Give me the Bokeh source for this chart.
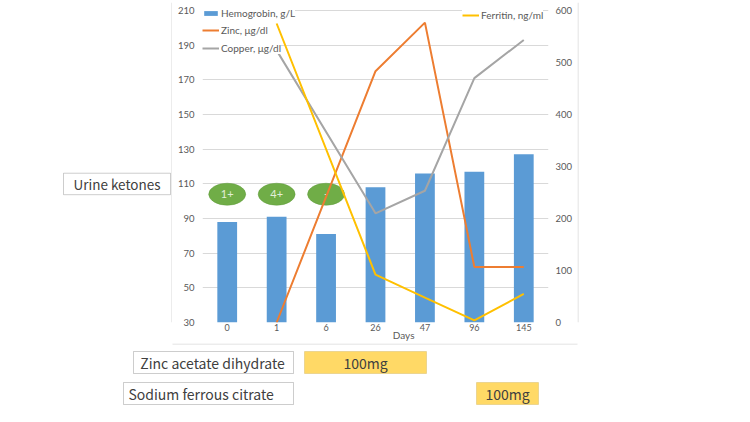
from bokeh.plotting import figure
from bokeh.layouts import row, column
from bokeh.models import (Range1d, FactorRange, LinearAxis, FixedTicker, Legend,
                          LegendItem, BoxAnnotation, Label)
from bokeh.core.properties import value
from bokeh.embed import file_html
from bokeh.resources import INLINE

# ---------------- data ----------------
days = ["0", "1", "6", "26", "47", "96", "145"]
hemoglobin = [88, 91, 81, 108, 116, 117, 127]          # g/L (left axis)
lab_days = ["1", "26", "47", "96", "145"]
zinc = [30, 175, 203, 62, 62]                          # ug/dl (left axis)
copper = [187, 93, 106, 171, 193]                      # ug/dl (left axis)
ferritin = [575, 92, 48, 4, 55]                        # ng/ml (right axis)
ketone_days = ["0", "1", "6"]
ketone_grades = ["1+", "4+", "-"]
left_ticks = [30, 50, 70, 90, 110, 130, 150, 170, 190, 210]
right_ticks = [0, 100, 200, 300, 400, 500, 600]
left_lim = (30, 210)
right_lim = (0, 600)

# ---------------- layout constants (canvas pixels) ----------------
W, H = 750, 422
CL, CR, CB = 172, 577, 343          # chart-area border
FL, FR, FB = 202, 548, 322          # plot frame left / right / bottom
GT = 10                             # pixel row of the top gridline (axis maximum)
FT = 2                              # frame top (room for the legends above the top gridline)
KETONE_Y = 104
BLUE, ORANGE, GRAY, YELLOW, GREEN = "#5B9BD5", "#ED7D31", "#A5A5A5", "#FFC000", "#70AD47"
BORDER = "#D9D9D9"
TXT = "#595959"
FONT = "Lato"
JFONT = "Noto Sans CJK JP"

pad_frac = (GT - FT) / (FB - GT)
left_end = left_lim[1] + (left_lim[1] - left_lim[0]) * pad_frac
right_end = right_lim[1] + (right_lim[1] - right_lim[0]) * pad_frac


def decor(width, height):
    f = figure(width=width, height=height, x_range=Range1d(0, width),
               y_range=Range1d(height, 0), output_backend="svg", toolbar_location=None,
               x_axis_type=None, y_axis_type=None, min_border=0)
    f.outline_line_color = None
    f.grid.visible = False
    f.background_fill_color = "white"
    f.border_fill_color = "white"
    return f


def box(f, x0, y0, x1, y1, fill=None, line="#595959"):
    f.add_layout(BoxAnnotation(left=x0, right=x1, top=y0, bottom=y1,
                               fill_color=fill if fill else "white",
                               fill_alpha=1 if fill else 0,
                               line_color=line, line_width=1))


def label(f, x, y, text, align="center", size="14px"):
    f.add_layout(Label(x=x, y=y, text=text, text_align=align, text_baseline="middle",
                       text_font=JFONT, text_font_size=size, text_color="#404040"))


def plain_axis(ax):
    ax.axis_line_color = None
    ax.major_tick_line_color = None
    ax.minor_tick_line_color = None
    ax.major_tick_out = 0
    ax.major_tick_in = 0
    ax.minor_tick_out = 0
    ax.minor_tick_in = 0
    ax.major_label_text_font = FONT
    ax.major_label_text_color = TXT


# ---------------- main chart ----------------
p = figure(width=CR - CL, height=CB, x_range=FactorRange(factors=days, range_padding=0),
           y_range=Range1d(left_lim[0], left_end), output_backend="svg",
           toolbar_location=None, min_border_left=FL - CL, min_border_right=CR - FR,
           min_border_top=FT, min_border_bottom=CB - FB)
p.outline_line_color = None
p.background_fill_color = "white"
p.border_fill_color = "white"
p.extra_y_ranges = {"ferr": Range1d(right_lim[0], right_end)}

plain_axis(p.xaxis[0])
plain_axis(p.yaxis[0])
p.yaxis[0].ticker = FixedTicker(ticks=left_ticks)
p.yaxis[0].major_label_text_font_size = "9.5px"
p.yaxis[0].major_label_standoff = 8
p.xaxis[0].major_label_text_font_size = "9px"
p.xaxis[0].major_label_standoff = 1
# axis title "Days" sits right of centre in the reference; leading no-break spaces shift it
p.xaxis[0].axis_label = "\u00a0" * 22 + "Days"
p.xaxis[0].axis_label_text_font = FONT
p.xaxis[0].axis_label_text_font_style = "normal"
p.xaxis[0].axis_label_text_font_size = "10px"
p.xaxis[0].axis_label_text_color = TXT
p.xaxis[0].axis_label_standoff = -5

rax = LinearAxis(y_range_name="ferr", ticker=FixedTicker(ticks=right_ticks))
plain_axis(rax)
rax.major_label_text_font_size = "9.5px"
rax.major_label_standoff = 7
p.add_layout(rax, "right")

p.xgrid.grid_line_color = None
p.ygrid.grid_line_color = BORDER
p.ygrid.ticker = FixedTicker(ticks=left_ticks)

bars = p.vbar(x=days, top=hemoglobin, bottom=left_lim[0], width=0.4, color=BLUE,
              line_color=None)

p.ellipse(x=ketone_days, y=KETONE_Y, width=37, height=22, width_units="screen",
          height_units="screen", fill_color=GREEN, line_color="#5E9A3A", line_width=0.5)
p.text(x=ketone_days, y=KETONE_Y, text=ketone_grades, text_align="center",
       text_baseline="middle", text_font=value(FONT), text_font_size="11px",
       text_color="#E2EFDA")

zl = p.line(lab_days, zinc, line_color=ORANGE, line_width=2)
cl = p.line(lab_days, copper, line_color=GRAY, line_width=2)
fl = p.line(lab_days, ferritin, line_color=YELLOW, line_width=2, y_range_name="ferr")

# one small legend box per entry (as in the reference), each sized to its own text
common = dict(padding=1, spacing=0, margin=0, label_height=12, glyph_height=6,
              glyph_width=17, label_standoff=2, label_text_font=FONT,
              label_text_font_size="10px", label_text_color=TXT,
              border_line_color=None, background_fill_color="white",
              background_fill_alpha=1)
legend_entries = [("Hemogrobin, g/L", bars, (0, 303)),
                  ("Zinc, μg/dl", zl, (0, 286)),
                  ("Copper, μg/dl", cl, (0, 268)),
                  ("Ferritin, ng/ml", fl, (260, 301))]
for text, rend, loc in legend_entries:
    p.add_layout(Legend(items=[LegendItem(label=text, renderers=[rend])],
                        location=loc, **common))

# ---------------- left panel (urine ketones) ----------------
left = decor(CL, CB)
left.segment(x0=CL - 0.5, y0=0, x1=CL - 0.5, y1=CB, line_color=BORDER, line_width=1)
box(left, 63, 183, 170, 206)
label(left, 116.5, 194.5, "Urine ketones", size="13.5px")

# ---------------- right panel ----------------
right = decor(W - CR, CB)
right.segment(x0=0.5, y0=0, x1=0.5, y1=CB, line_color=BORDER, line_width=1)

# ---------------- bottom panel (medications) ----------------
bottom = decor(W, H - CB)
oy = CB
bottom.segment(x0=CL, y0=0.5, x1=CR, y1=0.5, line_color=BORDER, line_width=1)
box(bottom, 133, 351 - oy, 293, 373 - oy)
label(bottom, 212, 362 - oy, "Zinc acetate dihydrate")
box(bottom, 304, 351 - oy, 426, 373 - oy, fill="#FFD966", line="#BF9F3F")
label(bottom, 365, 362 - oy, "100mg")
box(bottom, 123, 382 - oy, 293, 404 - oy)
label(bottom, 128, 393 - oy, "Sodium ferrous citrate", align="left")
box(bottom, 476, 382 - oy, 538, 404 - oy, fill="#FFD966", line="#BF9F3F")
label(bottom, 507, 393 - oy, "100mg")

layout = column(row(left, p, right, spacing=0), bottom, spacing=0)
open("out.html", "w").write(file_html(layout, INLINE))
